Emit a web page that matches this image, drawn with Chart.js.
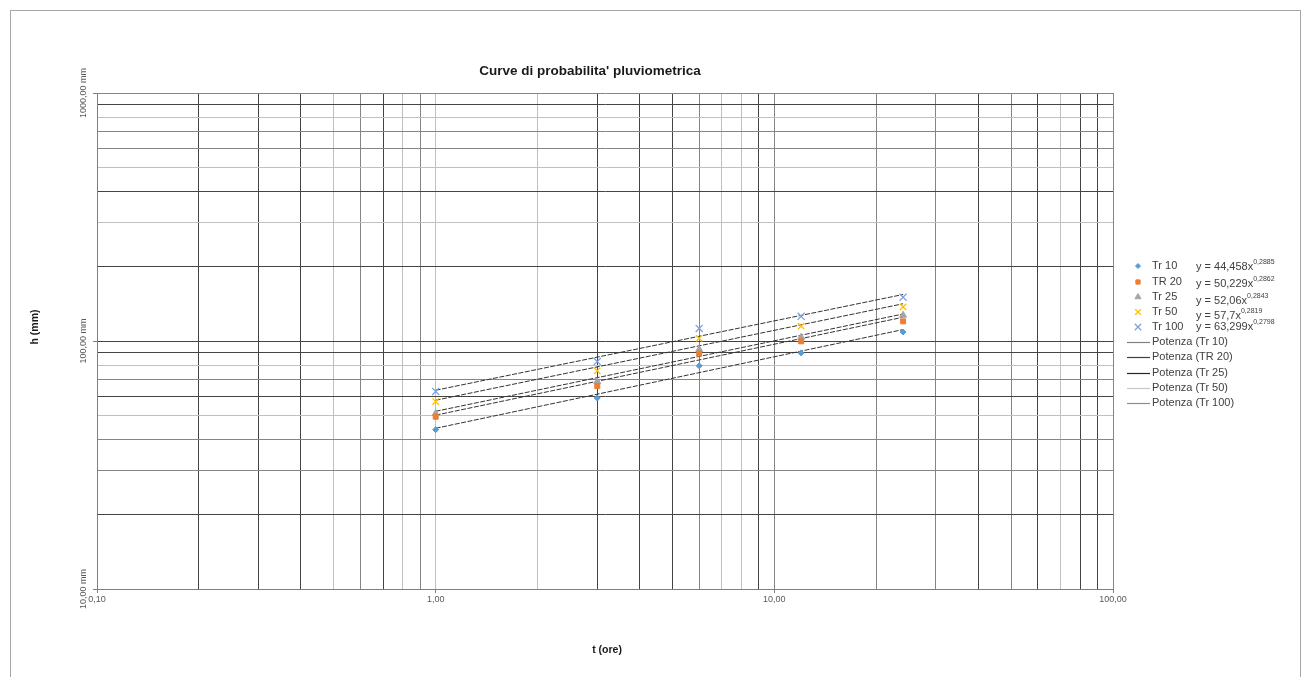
<!DOCTYPE html>
<html>
<head>
<meta charset="utf-8">
<title>Curve di probabilita' pluviometrica</title>
<script src="https://cdn.jsdelivr.net/npm/chart.js@4.4.1/dist/chart.umd.min.js"></script>
<style>
  html, body { margin: 0; padding: 0; background: #fff; }
  #wrap { position: relative; width: 1307px; height: 677px; }
</style>
</head>
<body>
<div id="wrap"><canvas id="chart" width="1307" height="677"></canvas></div>
<script>
// durations (ore) and rainfall heights (mm)
const durations = [1, 3, 6, 12, 24];
const seriesNames = ['Tr 10', 'TR 20', 'Tr 25', 'Tr 50', 'Tr 100'];
const tr10 = [43.9, 58.9, 79.4, 89.5, 108.7];
const tr20 = [49.5, 65.8, 88.9, 99.7, 120.0];
const tr25 = [51.0, 68.5, 92.5, 103.5, 127.0];
const tr50 = [57.0, 75.8, 102.5, 114.8, 137.3];
const tr100 = [62.6, 82.6, 112.4, 125.7, 150.2];

// power trend lines (end points at t = 1 and t = 24)
const trendT = [1, 24];
const fit10 = [44.46, 111.2];
const fit20 = [50.23, 124.7];
const fit25 = [52.06, 128.5];
const fit50 = [57.7, 141.3];
const fit100 = [63.3, 154.0];
const trendNames = ['Potenza (Tr 10)', 'Potenza (TR 20)', 'Potenza (Tr 25)', 'Potenza (Tr 50)', 'Potenza (Tr 100)'];
const coeffs = ['44,458', '50,229', '52,06', '57,7', '63,299'];
const exps = ['0,2885', '0,2862', '0,2843', '0,2819', '0,2798'];

// axis ticks
const xTicks = [0.1, 0.2, 0.3, 0.4, 0.5, 0.6, 0.7, 0.8, 0.9, 1, 2, 3, 4, 5, 6, 7, 8, 9, 10, 20, 30, 40, 50, 60, 70, 80, 90, 100];
const yTicks = [10, 20, 30, 40, 50, 60, 70, 80, 90, 100, 200, 300, 400, 500, 600, 700, 800, 900, 1000];
const xLabelValues = [0.1, 1, 10, 100];
const xLabelText = ['0,10', '1,00', '10,00', '100,00'];
const yLabelValues = [10, 100, 1000];
const yLabelText = ['10,00 mm', '100,00 mm', '1000,00 mm'];

// grid line shades (the original export renders them unevenly)
const D = '#444444', M = '#858585', L = '#c0c0c0';
const xShade = [M, D, D, D, L, M, D, L, M, L, L, D, D, D, M, L, L, D, M, M, M, D, M, D, L, D, D, M];
const yShade = [M, D, M, M, L, D, M, L, D, D, D, L, D, L, M, M, L, D, M];

const FONT = '"Liberation Sans", Arial, sans-serif';
const pointColors = ['#5B9BD5', '#ED7D31', '#A5A5A5', '#FFC000', '#7EA1DA'];
const pointStyles = ['rectRot', 'rect', 'triangle', 'crossRot', 'crossRot'];
const pointRadii = [3, 3.5, 4, 4.5, 5];
const legendLineColors = ['#808080', '#404040', '#262626', '#c8c8c8', '#8c8c8c'];

const seriesData = [tr10, tr20, tr25, tr50, tr100];
const fitData = [fit10, fit20, fit25, fit50, fit100];

const datasets = [];
fitData.forEach((fit, i) => {
  datasets.push({
    type: 'line',
    label: trendNames[i],
    data: trendT.map((t, k) => ({ x: t, y: fit[k] })),
    borderColor: '#333333',
    borderWidth: 1,
    borderDash: [5, 1.5],
    pointRadius: 0,
    fill: false,
    order: 2
  });
});
seriesData.forEach((vals, i) => {
  datasets.push({
    type: 'scatter',
    label: seriesNames[i],
    data: durations.map((t, k) => ({ x: t, y: vals[k] })),
    backgroundColor: pointColors[i],
    borderColor: pointColors[i],
    borderWidth: pointStyles[i] === 'crossRot' ? 1.3 : 1,
    pointStyle: pointStyles[i],
    pointRadius: pointRadii[i],
    order: 1
  });
});

// titles, rotated y labels, legend and outer frame
const decorPlugin = {
  id: 'decor',
  afterDraw(chart) {
    const ctx = chart.ctx;
    const ys = chart.scales.y;
    ctx.save();

    ctx.strokeStyle = '#a6a6a6';
    ctx.lineWidth = 1;
    ctx.strokeRect(10.5, 10.5, 1290, 700);

    ctx.fillStyle = '#1a1a1a';
    ctx.textAlign = 'center';
    ctx.textBaseline = 'middle';
    ctx.font = 'bold 13.5px ' + FONT;
    ctx.fillText("Curve di probabilita' pluviometrica", 590, 71);

    ctx.font = 'bold 10.5px ' + FONT;
    ctx.fillText('t (ore)', 607, 650);
    ctx.save();
    ctx.translate(35, 327);
    ctx.rotate(-Math.PI / 2);
    ctx.fillText('h (mm)', 0, 0);
    ctx.restore();

    ctx.fillStyle = '#595959';
    ctx.font = '9px ' + FONT;
    yLabelValues.forEach((v, i) => {
      ctx.save();
      ctx.translate(84, ys.getPixelForValue(v));
      ctx.rotate(-Math.PI / 2);
      ctx.fillText(yLabelText[i], 0, 0);
      ctx.restore();
    });

    // legend: markers with the fitted equations, then the trend lines
    const markY = [266, 282, 297, 312, 327];
    const eqY = [267, 284, 301, 316, 327];
    ctx.textAlign = 'left';
    seriesNames.forEach((name, i) => {
      ctx.fillStyle = pointColors[i];
      ctx.strokeStyle = pointColors[i];
      ctx.lineWidth = pointStyles[i] === 'crossRot' ? 1.3 : 1;
      Chart.helpers.drawPoint(ctx, {
        pointStyle: pointStyles[i],
        radius: pointRadii[i] - 0.5,
        rotation: 0,
        borderWidth: ctx.lineWidth
      }, 1138, markY[i]);
      ctx.fillStyle = '#404040';
      ctx.font = '11px ' + FONT;
      ctx.fillText(name, 1152, markY[i]);
      const base = 'y = ' + coeffs[i] + 'x';
      ctx.fillText(base, 1196, eqY[i]);
      const w = ctx.measureText(base).width;
      ctx.font = '7px ' + FONT;
      ctx.fillText(exps[i], 1196 + w, eqY[i] - 5);
    });
    const lineY = [342, 357, 373, 388, 403];
    ctx.font = '11px ' + FONT;
    trendNames.forEach((name, i) => {
      ctx.strokeStyle = legendLineColors[i];
      ctx.lineWidth = 1.2;
      ctx.beginPath();
      ctx.moveTo(1127, lineY[i] + 0.5);
      ctx.lineTo(1150, lineY[i] + 0.5);
      ctx.stroke();
      ctx.fillStyle = '#404040';
      ctx.fillText(name, 1152, lineY[i]);
    });
    ctx.restore();
  }
};

new Chart(document.getElementById('chart'), {
  type: 'scatter',
  data: { datasets: datasets },
  options: {
    responsive: false,
    devicePixelRatio: 1,
    animation: false,
    layout: { padding: { left: 67, top: 93, right: 194, bottom: 58 } },
    plugins: {
      legend: { display: false },
      title: { display: false },
      tooltip: { enabled: false }
    },
    scales: {
      x: {
        type: 'logarithmic',
        position: 'bottom',
        min: 0.1,
        max: 100,
        afterBuildTicks: s => { s.ticks = xTicks.map(v => ({ value: v, major: xLabelValues.includes(v) })); },
        afterFit: s => { s.height = 30; },
        ticks: {
          autoSkip: false,
          maxRotation: 0,
          minRotation: 0,
          padding: 1,
          color: '#595959',
          font: { size: 9, family: FONT },
          callback: v => {
            const i = xLabelValues.indexOf(v);
            return i >= 0 ? xLabelText[i] : '';
          }
        },
        grid: {
          lineWidth: 1,
          tickLength: 4,
          color: c => (c.tick ? xShade[xTicks.indexOf(c.tick.value)] || M : M),
          tickColor: c => (c.tick && xLabelValues.includes(c.tick.value) ? '#7f7f7f' : 'rgba(0,0,0,0)')
        },
        border: { color: '#7f7f7f' }
      },
      y: {
        type: 'logarithmic',
        position: 'left',
        min: 10,
        max: 1000,
        afterBuildTicks: s => { s.ticks = yTicks.map(v => ({ value: v, major: yLabelValues.includes(v) })); },
        afterFit: s => { s.width = 30; },
        ticks: { display: false },
        grid: {
          lineWidth: 1,
          tickLength: 4,
          color: c => (c.tick ? yShade[yTicks.indexOf(c.tick.value)] || M : M),
          tickColor: c => (c.tick && yLabelValues.includes(c.tick.value) ? '#7f7f7f' : 'rgba(0,0,0,0)')
        },
        border: { color: '#7f7f7f' }
      }
    }
  },
  plugins: [decorPlugin]
});
</script>
</body>
</html>
